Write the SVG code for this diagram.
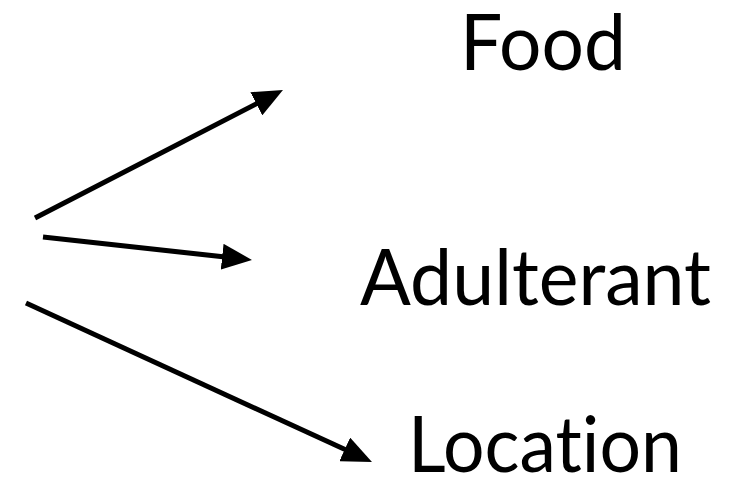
<svg xmlns="http://www.w3.org/2000/svg" width="746" height="477" viewBox="0 0 746 477">
<style>
.lbl{font-family:Lato,"Noto Sans","Liberation Sans",sans-serif;font-weight:400;font-size:77px;fill:#000;font-variant-ligatures:none;font-feature-settings:"liga" 0}
.edge{stroke:#000;stroke-width:5;fill:none}
</style>
<defs>
<marker id="ah" markerUnits="userSpaceOnUse" markerWidth="30" markerHeight="26" refX="10" refY="13" orient="auto">
<path d="M0,0 L30,13 L0,26 z" fill="#000"/>
</marker>
</defs>
<rect width="746" height="477" fill="#fff"/>
<g id="connectors">
<line class="edge" x1="35" y1="218" x2="265.2" y2="99.2" marker-end="url(#ah)"/>
<line class="edge" x1="43" y1="237" x2="232.1" y2="257.8" marker-end="url(#ah)"/>
<line class="edge" x1="26" y1="303" x2="353.8" y2="453.6" marker-end="url(#ah)"/>
</g>
<g id="food"><text class="lbl" x="460" y="70" textLength="166" lengthAdjust="spacingAndGlyphs">Food</text></g>
<g id="adulterant"><text class="lbl" x="360" y="305" textLength="351" lengthAdjust="spacingAndGlyphs">Adulterant</text></g>
<g id="location"><text class="lbl" x="408" y="472" textLength="274" lengthAdjust="spacingAndGlyphs">Location</text></g>
</svg>
